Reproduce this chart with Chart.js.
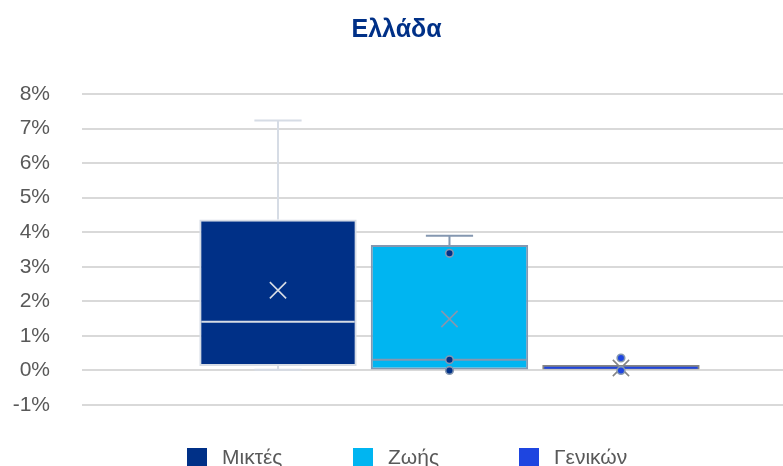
<!DOCTYPE html>
<html>
<head>
<meta charset="utf-8">
<script src="https://cdn.jsdelivr.net/npm/chart.js@4/dist/chart.umd.min.js"></script>
<style>
html,body{margin:0;padding:0;background:#fff;overflow:hidden;}
#wrap{width:783px;height:466px;position:relative;}
</style>
</head>
<body>
<div id="wrap"><canvas id="c" width="783" height="466"></canvas></div>
<script>
// ---- data ----
const categories = ['Μικτές', 'Ζωής', 'Γενικών'];
const q1 = [0.13, 0.0, 0.0];
const q3 = [4.37, 3.63, 0.16];
const median = [1.41, 0.31, 0.08];
const mean = [2.32, 1.49, 0.07];
const whiskerMin = [0.02, 0.0, 0.0];
const whiskerMax = [7.23, 3.90, 0.16];
const outliers = [[], [3.39, 0.31, 0.0], [0.36, 0.0]];
const yTicks = [-1, 0, 1, 2, 3, 4, 5, 6, 7, 8];

// ---- styles ----
const fillColors = ['#003087', '#00B5F1', '#1E45E0'];
const lineColors = ['#D6DCE5', '#8497B0', '#858585'];
const medianColors = ['#D6DCE5', '#8497B0', '#1E45E0'];
const pointFill = ['#003087', '#003087', '#1E45E0'];
const FONT = '"Liberation Sans", Arial, Helvetica, sans-serif';

const boxDatasets = categories.map((name, i) => ({
  type: 'bar',
  label: name,
  data: [{x: i, y: [q1[i], q3[i]]}],
  backgroundColor: fillColors[i],
  borderColor: lineColors[i],
  borderWidth: 2,
  borderSkipped: false,
  grouped: false,
  categoryPercentage: 1,
  barPercentage: 0.918,
  order: 10
}));

const meanDataset = {
  type: 'scatter',
  label: '_mean',
  data: mean.map((v, i) => ({x: i, y: v})),
  pointStyle: 'crossRot',
  pointRadius: 11.5,
  pointBorderWidth: 1.6,
  pointBorderColor: lineColors,
  pointBackgroundColor: lineColors,
  order: 2
};

const outPts = [], outFill = [], outBorder = [];
outliers.forEach((arr, i) => arr.forEach(v => {
  outPts.push({x: i, y: v}); outFill.push(pointFill[i]); outBorder.push('#8497B0');
}));
const outlierDataset = {
  type: 'scatter',
  label: '_out',
  data: outPts,
  pointStyle: 'circle',
  pointRadius: 3.8,
  pointBorderWidth: 1.6,
  pointBackgroundColor: outFill,
  pointBorderColor: outBorder,
  order: 1
};

// whiskers (behind boxes) and medians (on boxes)
const boxPlugin = {
  id: 'boxParts',
  beforeDatasetsDraw(chart) {
    const ctx = chart.ctx, y = chart.scales.y;
    ctx.save();
    for (let i = 0; i < categories.length; i++) {
      const bar = chart.getDatasetMeta(i).data[0];
      if (!bar) continue;
      const cx = bar.x, cap = bar.width * 0.3;
      ctx.strokeStyle = lineColors[i];
      ctx.lineWidth = 2;
      ctx.beginPath();
      if (whiskerMax[i] > q3[i]) {
        const yMax = y.getPixelForValue(whiskerMax[i]);
        const yQ3 = y.getPixelForValue(q3[i]);
        ctx.moveTo(cx, yQ3); ctx.lineTo(cx, yMax);
        ctx.moveTo(cx - cap / 2, yMax); ctx.lineTo(cx + cap / 2, yMax);
      }
      if (whiskerMin[i] < q1[i]) {
        const yMin = y.getPixelForValue(whiskerMin[i]);
        const yQ1 = y.getPixelForValue(q1[i]);
        ctx.moveTo(cx, yQ1); ctx.lineTo(cx, yMin);
        ctx.moveTo(cx - cap / 2, yMin); ctx.lineTo(cx + cap / 2, yMin);
      }
      ctx.stroke();
    }
    ctx.restore();
  },
  afterDatasetDraw(chart, args) {
    const i = args.index;
    if (i >= categories.length) return;
    const bar = chart.getDatasetMeta(i).data[0];
    if (!bar) return;
    const ctx = chart.ctx, y = chart.scales.y;
    const ym = y.getPixelForValue(median[i]);
    ctx.save();
    ctx.strokeStyle = medianColors[i];
    ctx.lineWidth = 2;
    ctx.beginPath();
    ctx.moveTo(bar.x - bar.width / 2 + 2, ym);
    ctx.lineTo(bar.x + bar.width / 2 - 2, ym);
    ctx.stroke();
    ctx.restore();
  }
};

// legend with fixed-width cells
const legendPlugin = {
  id: 'cellLegend',
  afterDraw(chart) {
    const ctx = chart.ctx;
    const cell = 166, box = 20;
    const left = 187;
    const top = 448;
    ctx.save();
    ctx.font = '21px ' + FONT;
    ctx.textBaseline = 'middle';
    ctx.textAlign = 'left';
    categories.forEach((name, i) => {
      const x = left + i * cell;
      ctx.fillStyle = fillColors[i];
      ctx.fillRect(x, top, box, box);
      ctx.fillStyle = '#595959';
      ctx.fillText(name, x + 35, top + 10);
    });
    ctx.restore();
  }
};

new Chart(document.getElementById('c'), {
  data: {datasets: [...boxDatasets, meanDataset, outlierDataset]},
  options: {
    responsive: false,
    animation: false,
    layout: {autoPadding: false, padding: {left: 10, right: 0, top: 0, bottom: 61}},
    plugins: {
      legend: {display: false},
      tooltip: {enabled: false},
      title: {
        display: true,
        text: 'Ελλάδα',
        color: '#003087',
        font: {family: FONT, size: 25, weight: 'bold'},
        padding: {top: 15, bottom: 49}
      }
    },
    scales: {
      x: {
        type: 'linear',
        display: false,
        offset: false,
        min: -1.143,
        max: 2.945,
        afterBuildTicks(scale) { scale.ticks = [0, 1, 2].map(v => ({value: v})); }
      },
      y: {
        type: 'linear',
        min: yTicks[0],
        max: yTicks[yTicks.length - 1],
        afterBuildTicks(scale) { scale.ticks = yTicks.map(v => ({value: v})); },
        afterFit(scale) { scale.width = 72; },
        border: {display: false},
        grid: {color: '#D9D9D9', lineWidth: 2, drawTicks: false},
        ticks: {
          padding: 32,
          color: '#595959',
          font: {family: FONT, size: 21},
          callback: v => v + '%'
        }
      }
    }
  },
  plugins: [boxPlugin, legendPlugin]
});
</script>
</body>
</html>
